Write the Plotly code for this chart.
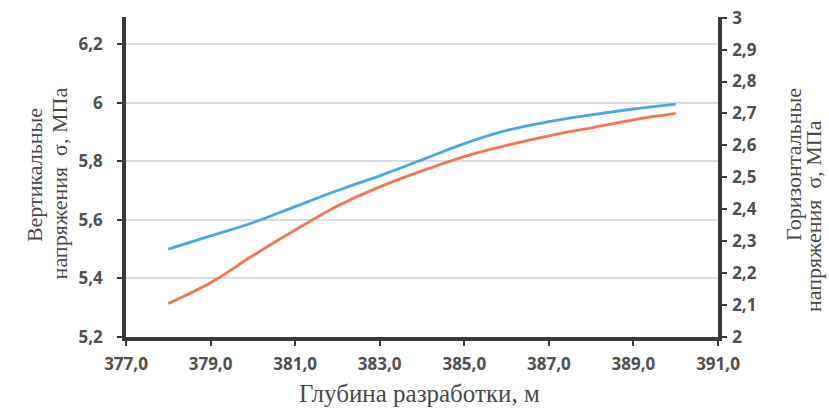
import plotly.graph_objects as go

depth = [378, 379, 380, 381, 382, 383, 384, 385, 386, 387, 388, 389, 390]
sigma_v = [5.50, 5.545, 5.59, 5.645, 5.70, 5.75, 5.805, 5.86, 5.905, 5.935, 5.958, 5.978, 5.995]
sigma_h = [2.105, 2.17, 2.255, 2.335, 2.41, 2.47, 2.52, 2.565, 2.60, 2.63, 2.655, 2.68, 2.70]

x_ticks = [377, 379, 381, 383, 385, 387, 389, 391]
x_labels = ["377,0", "379,0", "381,0", "383,0", "385,0", "387,0", "389,0", "391,0"]
yl_ticks = [5.2, 5.4, 5.6, 5.8, 6.0, 6.2]
yl_labels = ["5,2", "5,4", "5,6", "5,8", "6", "6,2"]
yr_ticks = [2.0, 2.1, 2.2, 2.3, 2.4, 2.5, 2.6, 2.7, 2.8, 2.9, 3.0]
yr_labels = ["2", "2,1", "2,2", "2,3", "2,4", "2,5", "2,6", "2,7", "2,8", "2,9", "3"]

title_v = ["Вертикальные", "напряжения  σ, МПа"]
title_h = ["Горизонтальные", "напряжения  σ, МПа"]
title_x = "Глубина разработки, м"

axis_col = "#3a3a3a"
tick_font = dict(family="Open Sans", size=17, color="#505050", weight="bold")
title_font = dict(family="Liberation Serif", size=22, color="#4a4a4a")
xtitle_font = dict(family="Liberation Serif", size=25, color="#4a4a4a")

fig = go.Figure()
fig.add_trace(go.Scatter(x=depth, y=sigma_v, mode="lines", line=dict(color="#47a9e1", width=2.8, shape="spline"),
                         yaxis="y", showlegend=False))
fig.add_trace(go.Scatter(x=depth, y=sigma_h, mode="lines", line=dict(color="#f2764e", width=2.8, shape="spline"),
                         yaxis="y2", showlegend=False))

fig.update_layout(
    width=829, height=414, autosize=False,
    margin=dict(l=126, r=111, t=17, b=77, autoexpand=False),
    paper_bgcolor="white", plot_bgcolor="white",
    xaxis=dict(range=[377, 391], tickvals=x_ticks, ticktext=x_labels, showgrid=False, zeroline=False,
               showline=True, linecolor=axis_col, linewidth=3.5, ticks="outside", ticklen=5, tickwidth=2,
               tickcolor=axis_col, tickfont=tick_font, ticklabelstandoff=4, ticklabeloverflow="allow",
               automargin=False),
    yaxis=dict(range=[5.2, 6.292], tickvals=yl_ticks, ticktext=yl_labels, showgrid=True, gridcolor="#d5dde6",
               gridwidth=1.5, zeroline=False, showline=True, linecolor=axis_col, linewidth=3.5, ticks="outside",
               ticklen=5, tickwidth=2, tickcolor=axis_col, tickfont=tick_font, ticklabelstandoff=11,
               ticklabeloverflow="allow", automargin=False),
    yaxis2=dict(range=[2, 3.002], overlaying="y", side="right", tickvals=yr_ticks, ticktext=yr_labels, showgrid=False,
                zeroline=False, showline=True, linecolor=axis_col, linewidth=3.5, ticks="outside", ticklen=5,
                tickwidth=2, tickcolor=axis_col, tickfont=tick_font, ticklabelstandoff=2,
                ticklabeloverflow="allow", automargin=False),
)

# axis titles, one annotation per line
for txt, x, y in [(title_v[0], -0.1554, 0.506), (title_v[1], -0.1132, 0.480),
                  (title_h[0], 1.1267, 0.5375), (title_h[1], 1.1605, 0.378)]:
    fig.add_annotation(text=txt, xref="paper", yref="paper", x=x, y=y, textangle=-90, showarrow=False,
                       font=title_font, xanchor="center", yanchor="middle")
fig.add_annotation(text=title_x, xref="paper", yref="paper", x=0.4966, y=-0.176, showarrow=False,
                   font=xtitle_font, xanchor="center", yanchor="middle")

fig.write_html("out.html", config={"displayModeBar": False},
               post_script="document.body.style.margin='0';")
